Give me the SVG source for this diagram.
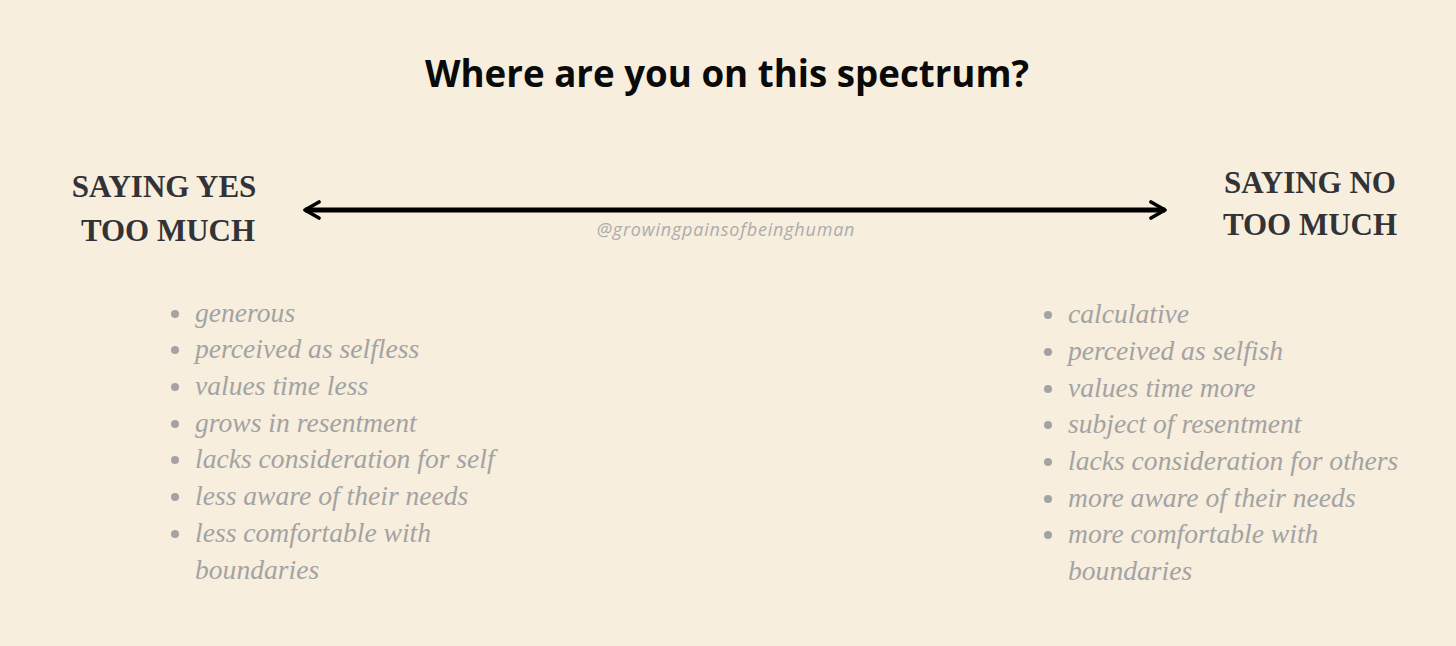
<svg xmlns="http://www.w3.org/2000/svg" width="1456" height="646" viewBox="0 0 1456 646">
<style>
.title{font-family:"Open Sans","Liberation Sans",sans-serif;font-weight:700;font-size:36.7px;fill:#0a0a0a}
.hdr{font-family:"Liberation Serif","DejaVu Serif",serif;font-weight:700;font-size:31px;fill:#333236;text-anchor:middle}
.item{font-family:"Liberation Serif","DejaVu Serif",serif;font-style:italic;font-size:27.6px;fill:#a3a3a3}
.wm{font-family:"Open Sans","Liberation Sans",sans-serif;font-style:italic;font-size:18px;letter-spacing:0.8px;fill:#acacac}
.dot{fill:#a3a3a3}
</style>
<defs>
<marker id="chev" viewBox="0 0 10 10" refX="9" refY="5" markerWidth="4" markerHeight="4.4" orient="auto-start-reverse" markerUnits="strokeWidth">
<path d="M2,1 L9,5 L2,9" fill="none" stroke="#000" stroke-width="1.8" stroke-linecap="round" stroke-linejoin="round"/>
</marker>
</defs>
<rect width="1456" height="646" fill="#f7eedd"/>
<text class="title" x="727" y="87" text-anchor="middle">Where are you on this spectrum?</text>
<g id="connectors">
<line x1="305" y1="210" x2="1165" y2="210" stroke="#000" stroke-width="5" marker-start="url(#chev)" marker-end="url(#chev)"/>
</g>
<text class="wm" x="726" y="236" text-anchor="middle">@growingpainsofbeinghuman</text>
<g id="yes">
<text class="hdr" x="164" y="197">SAYING YES</text>
<text class="hdr" x="168" y="241">TOO MUCH</text>
<g class="dot">
<circle cx="175" cy="314" r="4"/><circle cx="175" cy="350" r="4"/><circle cx="175" cy="387" r="4"/><circle cx="175" cy="424" r="4"/><circle cx="175" cy="460" r="4"/><circle cx="175" cy="497" r="4"/><circle cx="175" cy="534" r="4"/>
</g>
<text class="item" x="195" y="322">generous</text>
<text class="item" x="195" y="358">perceived as selfless</text>
<text class="item" x="195" y="395">values time less</text>
<text class="item" x="195" y="432">grows in resentment</text>
<text class="item" x="195" y="468">lacks consideration for self</text>
<text class="item" x="195" y="505">less aware of their needs</text>
<text class="item" x="195" y="542">less comfortable with</text>
<text class="item" x="195" y="579">boundaries</text>
</g>
<g id="no">
<text class="hdr" x="1310" y="193">SAYING NO</text>
<text class="hdr" x="1310" y="235">TOO MUCH</text>
<g class="dot">
<circle cx="1048" cy="315" r="4"/><circle cx="1048" cy="352" r="4"/><circle cx="1048" cy="389" r="4"/><circle cx="1048" cy="425" r="4"/><circle cx="1048" cy="462" r="4"/><circle cx="1048" cy="499" r="4"/><circle cx="1048" cy="535" r="4"/>
</g>
<text class="item" x="1068" y="323">calculative</text>
<text class="item" x="1068" y="360">perceived as selfish</text>
<text class="item" x="1068" y="397">values time more</text>
<text class="item" x="1068" y="433">subject of resentment</text>
<text class="item" x="1068" y="470">lacks consideration for others</text>
<text class="item" x="1068" y="507">more aware of their needs</text>
<text class="item" x="1068" y="543">more comfortable with</text>
<text class="item" x="1068" y="580">boundaries</text>
</g>
</svg>
